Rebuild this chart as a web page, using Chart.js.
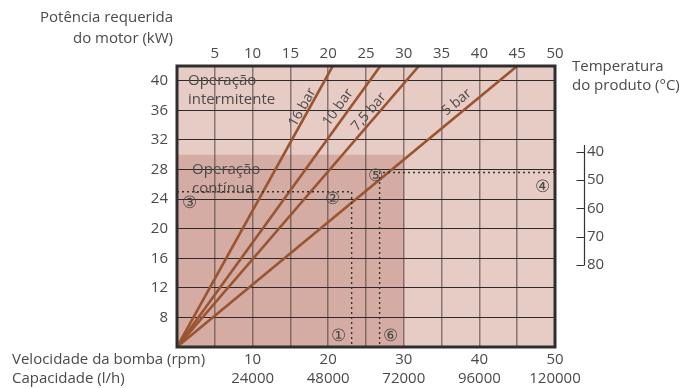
<!DOCTYPE html>
<html>
<head>
<meta charset="utf-8">
<script src="https://cdn.jsdelivr.net/npm/chart.js@4.4.0/dist/chart.umd.min.js"></script>
<style>
    html, body { margin: 0; padding: 0; background: #fff; }
    #wrap { width: 696px; height: 388px; }
</style>
</head>
<body>
<div id="wrap"><canvas id="myChart" width="696" height="388"></canvas></div>
<script>
// axes
const speedRange = [0, 50]
const powerRange = [4, 42]
const tempRange = [9.7, 109]            // temperature scale, reversed, aligned with power axis
const gridSpeedTicks = [0, 5, 10, 15, 20, 25, 30, 35, 40, 45, 50]
const topTempTicks = [5, 10, 15, 20, 25, 30, 35, 40, 45, 50]
const speedLabels = [10, 20, 30, 40, 50]
const capacityLabels = [24000, 48000, 72000, 96000, 120000]
const powerTicks = [8, 12, 16, 20, 24, 28, 32, 36, 40]
const tempTicks = [40, 50, 60, 70, 80]
const tempAxisSpan = [37.6, 80]
const tempAxisSpeed = 53.8

// pressure lines (start at origin, end at top of chart)
const pressureNames = ['16 bar', '10 bar', '7,5 bar', '5 bar']
const originSpeed = 0
const originPower = 4
const pressureEndSpeed = [20.6, 26.9, 32.0, 45.0]
const pressureEndPower = [42, 42, 42, 42]
const pressureLabelSpeed = [16.6, 21.3, 25.4, 37.0]
const pressureLabelPower = [36.4, 36.4, 35.8, 37.1]

// operating regions
const intermittentSpeed = [0, 50]
const intermittentPower = [42, 42]
const continuousSpeed = [0, 30]
const continuousPower = [30, 30]

// dotted reading guides
const guideASpeed = [0, 23.1, 23.1]
const guideAPower = [25, 25, 4]
const guideBSpeed = [50, 26.8, 26.8]
const guideBPower = [27.6, 27.6, 4]

// circled markers
const markerText = ['①', '②', '③', '④', '⑤', '⑥']
const markerSpeed = [21.4, 20.6, 1.7, 48.3, 26.3, 28.3]
const markerPower = [5.5, 24.0, 23.5, 25.6, 27.1, 5.4]

// region texts
const regionText = [['Operação', 'intermitente'], ['Operação', 'contínua']]
const regionSpeed = [1.45, 2.0]
const regionPower = [40.0, 28.0]

const textColor = '#4a4a4a'
const lineColor = '#9a5530'
const fontFamily = "'Open Sans', 'Liberation Sans', sans-serif"

Chart.defaults.font.family = fontFamily
Chart.defaults.font.size = 15
Chart.defaults.color = textColor

function pts(xs, ys){
    return xs.map((v, i) => ({x: v, y: ys[i]}))
}

let datasets = []

pressureNames.forEach((name, i) => {
    datasets.push({
        label: name,
        data: pts([originSpeed, pressureEndSpeed[i]], [originPower, pressureEndPower[i]]),
        borderColor: lineColor,
        borderWidth: 2.6,
        pointRadius: 0,
        fill: false,
        order: 2
    })
})

datasets.push({
    label: 'guia A',
    data: pts(guideASpeed, guideAPower),
    borderColor: '#333',
    borderWidth: 1.4,
    borderDash: [2, 3],
    pointRadius: 0,
    fill: false,
    order: 1
})
datasets.push({
    label: 'guia B',
    data: pts(guideBSpeed, guideBPower),
    borderColor: '#333',
    borderWidth: 1.4,
    borderDash: [2, 3],
    pointRadius: 0,
    fill: false,
    order: 1
})
datasets.push({
    label: 'contínua',
    data: pts(continuousSpeed, continuousPower),
    borderWidth: 0,
    pointRadius: 0,
    fill: 'start',
    backgroundColor: '#d5aca4',
    order: 10
})
datasets.push({
    label: 'intermitente',
    data: pts(intermittentSpeed, intermittentPower),
    borderWidth: 0,
    pointRadius: 0,
    fill: 'start',
    backgroundColor: '#e7ccc5',
    order: 20
})

const overlay = {
    id: 'overlay',
    afterDatasetsDraw(chart){
        const {ctx, scales: {x, y}} = chart
        ctx.save()
        ctx.fillStyle = textColor

        // pressure labels, rotated along their line
        ctx.font = '14px ' + fontFamily
        pressureNames.forEach((name, i) => {
            let ang = Math.atan2(
                y.getPixelForValue(pressureEndPower[i]) - y.getPixelForValue(originPower),
                x.getPixelForValue(pressureEndSpeed[i]) - x.getPixelForValue(originSpeed))
            ctx.save()
            ctx.translate(x.getPixelForValue(pressureLabelSpeed[i]), y.getPixelForValue(pressureLabelPower[i]))
            ctx.rotate(ang)
            ctx.textAlign = 'center'
            ctx.textBaseline = 'middle'
            ctx.fillText(name, 0, 0)
            ctx.restore()
        })

        // region names
        ctx.font = '15px ' + fontFamily
        ctx.textAlign = 'left'
        ctx.textBaseline = 'middle'
        regionText.forEach((lines, i) => {
            let px = x.getPixelForValue(regionSpeed[i])
            let py = y.getPixelForValue(regionPower[i])
            lines.forEach((t, j) => ctx.fillText(t, px, py + j * 19))
        })

        // circled markers
        ctx.font = '17px ' + fontFamily
        ctx.textAlign = 'center'
        markerText.forEach((t, i) => {
            ctx.fillText(t, x.getPixelForValue(markerSpeed[i]), y.getPixelForValue(markerPower[i]))
        })
        ctx.restore()
    },
    afterDraw(chart){
        const {ctx, chartArea: a, scales: {x, yT}} = chart
        ctx.save()
        // frame
        ctx.strokeStyle = '#2e2e2e'
        ctx.lineWidth = 3
        ctx.strokeRect(a.left, a.top, a.right - a.left, a.bottom - a.top)

        // short temperature axis
        let ax = Math.round(x.getPixelForValue(tempAxisSpeed)) + 0.5
        ctx.strokeStyle = '#333'
        ctx.lineWidth = 1.2
        ctx.beginPath()
        ctx.moveTo(ax, yT.getPixelForValue(tempAxisSpan[0]))
        ctx.lineTo(ax, yT.getPixelForValue(tempAxisSpan[1]))
        tempTicks.forEach((t) => {
            let ty = Math.round(yT.getPixelForValue(t)) + 0.5
            ctx.moveTo(ax - 8, ty)
            ctx.lineTo(ax, ty)
        })
        ctx.stroke()

        // axis titles
        ctx.fillStyle = textColor
        ctx.font = '15px ' + fontFamily
        ctx.textBaseline = 'middle'
        ctx.textAlign = 'right'
        ctx.fillText('Potência requerida', 173, 18)
        ctx.fillText('do motor (kW)', 173, 39)
        ctx.textAlign = 'left'
        ctx.fillText('Temperatura', 572, 67)
        ctx.fillText('do produto (°C)', 572, 86)
        ctx.fillText('Velocidade da bomba (rpm)', 12, 360)
        ctx.fillText('Capacidade (l/h)', 12, 379)
        ctx.restore()
    }
}

let config = {
    type: 'line',
    data: {datasets: datasets},
    options: {
        responsive: false,
        animation: false,
        layout: {padding: 0},
        plugins: {
            legend: {display: false},
            tooltip: {enabled: false},
            filler: {drawTime: 'beforeDraw'}
        },
        scales: {
            x: {
                type: 'linear',
                position: 'bottom',
                min: speedRange[0],
                max: speedRange[1],
                afterBuildTicks: (s) => { s.ticks = gridSpeedTicks.map((v) => ({value: v})) },
                afterFit: (s) => { s.height = 41 },
                border: {display: false},
                grid: {color: 'rgba(75,60,58,0.6)', lineWidth: 1.5, drawTicks: false},
                ticks: {
                    padding: 3,
                    maxRotation: 0,
                    autoSkip: false,
                    font: {size: 15, lineHeight: 1.27},
                    callback: (v) => {
                        let i = speedLabels.indexOf(v)
                        return i < 0 ? '' : [String(speedLabels[i]), String(capacityLabels[i])]
                    }
                }
            },
            xTop: {
                type: 'linear',
                position: 'top',
                min: speedRange[0],
                max: speedRange[1],
                afterBuildTicks: (s) => { s.ticks = topTempTicks.map((v) => ({value: v})) },
                afterFit: (s) => { s.height = 66 },
                border: {display: false},
                grid: {display: false, drawTicks: false},
                ticks: {padding: 3, maxRotation: 0, autoSkip: false}
            },
            y: {
                type: 'linear',
                position: 'left',
                min: powerRange[0],
                max: powerRange[1],
                afterBuildTicks: (s) => { s.ticks = powerTicks.map((v) => ({value: v})) },
                afterFit: (s) => { s.width = 177 },
                border: {display: false},
                grid: {color: '#2b2b2b', lineWidth: 1, drawTicks: false},
                ticks: {padding: 9, autoSkip: false}
            },
            yT: {
                type: 'linear',
                position: 'right',
                reverse: true,
                min: tempRange[0],
                max: tempRange[1],
                afterBuildTicks: (s) => { s.ticks = tempTicks.map((v) => ({value: v})) },
                afterFit: (s) => { s.width = 141 },
                border: {display: false},
                grid: {display: false, drawTicks: false},
                ticks: {padding: 32, autoSkip: false}
            }
        }
    },
    plugins: [overlay]
}

let mychart = new Chart(document.getElementById('myChart'), config)
</script>
</body>
</html>
